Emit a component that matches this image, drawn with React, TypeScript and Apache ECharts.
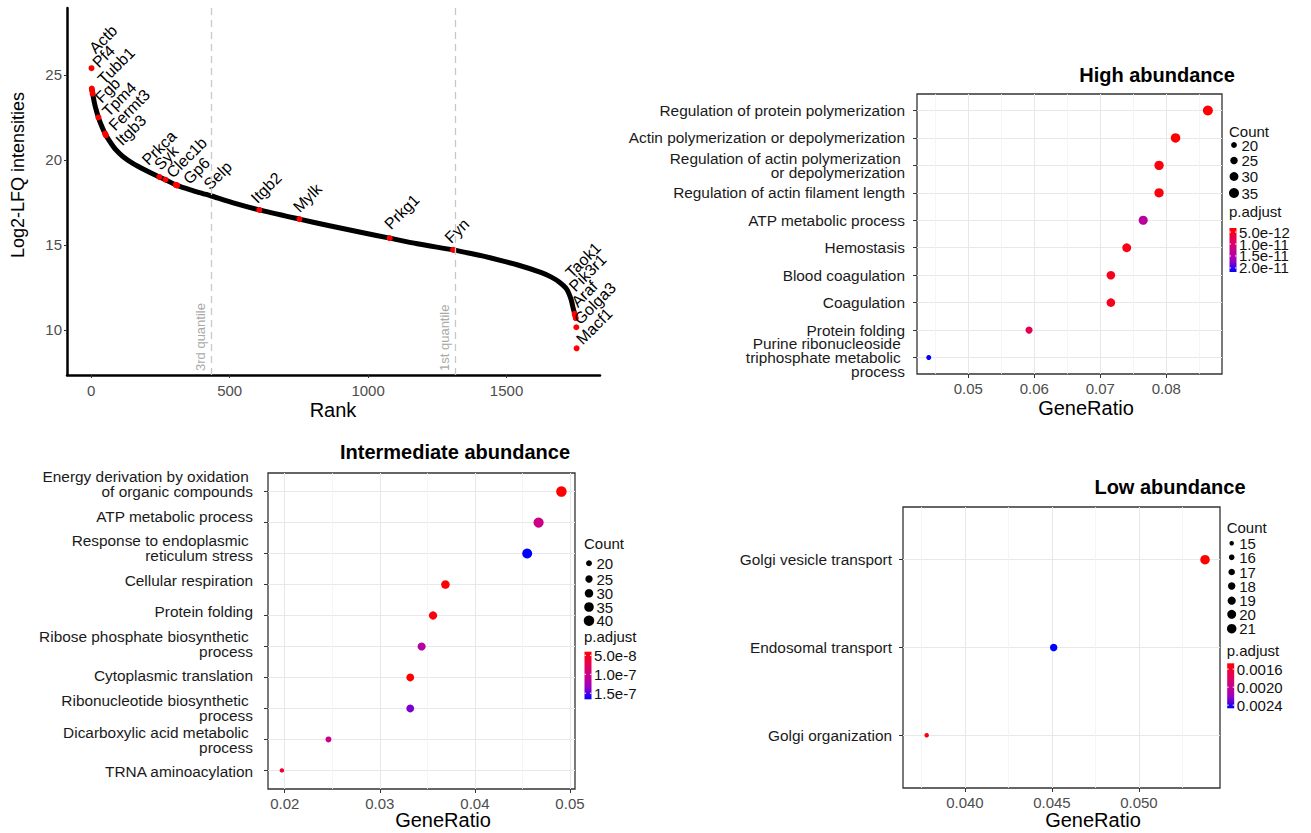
import React, { useEffect, useRef } from 'react';
import * as echarts from 'echarts';

const FONT = "'Liberation Sans', Arial, sans-serif";

// ---------- Ranked proteome (log2 LFQ intensity by abundance rank) ----------
const curveRank = [3, 11, 17, 26, 35, 53, 77, 89, 113, 150, 198, 246, 268, 307, 367, 416, 434, 513, 607, 752, 852, 973, 1078, 1178, 1307, 1372, 1420, 1541, 1626, 1662, 1690, 1717, 1733, 1741, 1747, 1750];
const curveLfq = [24.1, 23.4, 23.0, 22.5, 22.1, 21.45, 20.85, 20.6, 20.22, 19.8, 19.38, 19.0, 18.84, 18.52, 18.2, 17.97, 17.88, 17.47, 17.06, 16.52, 16.16, 15.75, 15.4, 15.07, 14.71, 14.5, 14.33, 13.82, 13.37, 13.11, 12.82, 12.4, 11.8, 11.25, 10.9, 10.7];

const geneNames = ['Actb', 'Pf4', 'Tubb1', 'Fgb', 'Tpm4', 'Fermt3', 'Itgb3', 'Prkca', 'Syk', 'Clec1b', 'Gp6', 'Selp', 'Itgb2', 'Mylk', 'Prkg1', 'Fyn', 'Taok1', 'Pik3r1', 'Araf', 'Golga3', 'Macf1'];
const geneRank = [1, 2, 3, 5, 26, 50, 53, 246, 268, 305, 308, 310, 607, 752, 1078, 1307, 1746, 1748, 1750, 1752, 1753];
const geneLfq = [25.4, 24.2, 24.1, 23.9, 22.5, 21.55, 21.45, 19.0, 18.84, 18.54, 18.52, 18.5, 17.06, 16.52, 15.4, 14.71, 10.95, 10.85, 10.7, 10.16, 8.92];
// pixel offset of each rotated gene label from its point
const geneLabelOffset = [[6, -12], [9, -18], [14, -3], [11, 12], [12, 2], [12, 0], [18, 13], [-9, -9], [-3, -7], [-1, -4], [15, 2], [35, 7], [0, -4], [2, -4], [3, -6], [0, -4], [-1, -33], [2, -21], [4, -8], [6, 0], [8, -1]];

const quantileRank = [434, 1315];
const quantileLabel = ['3rd quantile', '1st quantile'];
const rankTicks = [0, 500, 1000, 1500];
const lfqTicks = [10, 15, 20, 25];

// ---------- GO enrichment: high abundance ----------
const highTerms = ['Regulation of protein polymerization', 'Actin polymerization or depolymerization', 'Regulation of actin polymerization \nor depolymerization', 'Regulation of actin filament length', 'ATP metabolic process', 'Hemostasis', 'Blood coagulation', 'Coagulation', 'Protein folding', 'Purine ribonucleoside \ntriphosphate metabolic \nprocess'];
const highRatio = [0.0863, 0.0814, 0.0789, 0.0789, 0.0765, 0.074, 0.0716, 0.0716, 0.0592, 0.044];
const highCount = [35, 33, 32, 32, 31, 30, 29, 29, 24, 18];
const highPadj = [3.5e-12, 3.3e-12, 4.0e-12, 4.0e-12, 1.4e-11, 4.5e-12, 5.0e-12, 5.0e-12, 8.3e-12, 2.17e-11];
const highTicks = [0.05, 0.06, 0.07, 0.08];
const highMinor = [0.045, 0.055, 0.065, 0.075, 0.085];
const highCountBreaks = [20, 25, 30, 35];
const highPadjBreaks = [5e-12, 1e-11, 1.5e-11, 2e-11];

// ---------- GO enrichment: intermediate abundance ----------
const interTerms = ['Energy derivation by oxidation \nof organic compounds', 'ATP metabolic process', 'Response to endoplasmic \nreticulum stress', 'Cellular respiration', 'Protein folding', 'Ribose phosphate biosynthetic \nprocess', 'Cytoplasmic translation', 'Ribonucleotide biosynthetic \nprocess', 'Dicarboxylic acid metabolic \nprocess', 'TRNA aminoacylation'];
const interRatio = [0.0491, 0.0467, 0.0455, 0.0369, 0.0356, 0.0344, 0.0332, 0.0332, 0.0246, 0.0197];
const interCount = [40, 38, 37, 30, 29, 28, 27, 27, 20, 16];
const interPadj = [4.1e-8, 1.0e-7, 1.66e-7, 4.3e-8, 4.5e-8, 1.16e-7, 4.05e-8, 1.41e-7, 1.03e-7, 5.9e-8];
const interTicks = [0.02, 0.03, 0.04, 0.05];
const interMinor = [0.025, 0.035, 0.045];
const interCountBreaks = [20, 25, 30, 35, 40];
const interPadjBreaks = [5e-8, 1e-7, 1.5e-7];

// ---------- GO enrichment: low abundance ----------
const lowTerms = ['Golgi vesicle transport', 'Endosomal transport', 'Golgi organization'];
const lowRatio = [0.0538, 0.0451, 0.0378];
const lowCount = [21, 18, 15];
const lowPadj = [0.00147, 0.00247, 0.0015];
const lowTicks = [0.04, 0.045, 0.05];
const lowMinor = [0.0375, 0.0425, 0.0475, 0.0525];
const lowCountBreaks = [15, 16, 17, 18, 19, 20, 21];
const lowPadjBreaks = [0.0016, 0.002, 0.0024];

// red (low p.adjust) -> blue (high p.adjust)
const PALETTE = ['#FF0000', '#E80050', '#C90089', '#9A00C3', '#0000FF'];

function areaSize(count: number, cMin: number, cMax: number, dMin: number, dMax: number) {
  const t = cMax === cMin ? 0 : (count - cMin) / (cMax - cMin);
  return Math.sqrt(dMin * dMin + t * (dMax * dMax - dMin * dMin));
}

function txt(text: string, x: number, y: number, o: any = {}) {
  const align = o.align || 'left';
  return {
    type: 'text', x, y, rotation: o.rotation || 0, silent: true, z: 10,
    style: {
      text, fill: o.color || '#111',
      font: `${o.weight || 'normal'} ${o.size || 15}px ${FONT}`,
      textAlign: align, align, textVerticalAlign: 'middle', verticalAlign: 'middle',
    },
  };
}

const dotPanels = [
  {
    terms: highTerms, ratio: highRatio, count: highCount, padj: highPadj,
    xMin: 0.04222, xMax: 0.08844, ticks: highTicks, minor: highMinor, digits: 2,
    grid: { left: 917, top: 94, width: 305, height: 280 }, dRange: [5, 10],
    labelMargin: 12, labelLineHeight: 14, labelRange: null as null | number[],
    title: 'High abundance', titlePos: [1157, 75], xNamePos: [1086, 408],
    legend: { x: 1229, countTitleY: 131.7, countYs: [145, 160.5, 176.5, 193], padjTitleY: 211.7, barTop: 228, barBottom: 272 },
    countBreaks: highCountBreaks, padjBreaks: highPadjBreaks, fmt: (v: number) => v.toExponential(1),
  },
  {
    terms: interTerms, ratio: interRatio, count: interCount, padj: interPadj,
    xMin: 0.01824, xMax: 0.05053, ticks: interTicks, minor: interMinor, digits: 2,
    grid: { left: 268, top: 473, width: 307, height: 316 }, dRange: [4.5, 10.5],
    // term labels on this panel sit on a slightly looser pitch than the rows
    labelMargin: 15, labelLineHeight: 15, labelRange: [-0.3507, 9.543],
    title: 'Intermediate abundance', titlePos: [455, 452], xNamePos: [443, 820],
    legend: { x: 584, countTitleY: 543.3, countYs: [563.3, 579, 593.3, 607, 620.7], padjTitleY: 636.7, barTop: 651.7, barBottom: 699.3 },
    countBreaks: interCountBreaks, padjBreaks: interPadjBreaks, fmt: (v: number) => v.toExponential(1),
  },
  {
    terms: lowTerms, ratio: lowRatio, count: lowCount, padj: lowPadj,
    xMin: 0.03644, xMax: 0.05466, ticks: lowTicks, minor: lowMinor, digits: 3,
    grid: { left: 903, top: 507, width: 317, height: 281 }, dRange: [4.5, 9.5],
    labelMargin: 11, labelLineHeight: 14, labelRange: null as null | number[],
    title: 'Low abundance', titlePos: [1170, 487], xNamePos: [1093, 820],
    legend: { x: 1226.7, countTitleY: 527.3, countYs: [543.3, 557.3, 572, 586, 600.7, 614.3, 628.7], padjTitleY: 650, barTop: 663.3, barBottom: 708.3 },
    countBreaks: lowCountBreaks, padjBreaks: lowPadjBreaks, fmt: (v: number) => v.toFixed(4),
  },
];

function buildOption() {
  const grids: any[] = [{ left: 67, top: 8, width: 533, height: 367, show: false }];
  const xAxes: any[] = [{
    gridIndex: 0, type: 'value', position: 'bottom', min: -87.5, max: 1837.5,
    axisLine: { show: true, onZero: false, lineStyle: { color: '#000', width: 2.5 } },
    axisTick: { show: true, length: 3, customValues: rankTicks, lineStyle: { color: '#333' } },
    axisLabel: { customValues: rankTicks, formatter: (v: number) => String(v), color: '#4d4d4d', fontSize: 15, margin: 8, fontFamily: FONT },
    splitLine: { show: false },
  }];
  const yAxes: any[] = [{
    gridIndex: 0, type: 'value', position: 'left', min: 7.35, max: 28.94,
    axisLine: { show: true, onZero: false, lineStyle: { color: '#000', width: 2.5 } },
    axisTick: { show: true, length: 3, customValues: lfqTicks, lineStyle: { color: '#333' } },
    axisLabel: { customValues: lfqTicks, formatter: (v: number) => String(v), color: '#4d4d4d', fontSize: 15, margin: 5, fontFamily: FONT },
    splitLine: { show: false },
  }];

  const series: any[] = [
    {
      type: 'line', xAxisIndex: 0, yAxisIndex: 0, symbol: 'none', smooth: 0.25,
      data: curveRank.map((r, i) => [r, curveLfq[i]]),
      lineStyle: { color: '#000', width: 5, cap: 'round', join: 'round' }, z: 2,
      markLine: {
        silent: true, symbol: ['none', 'none'],
        lineStyle: { color: '#c8c8c8', type: [7, 5], width: 1.3 },
        label: { show: true, position: 'insideStartTop', color: '#a9a9a9', fontSize: 13, fontFamily: FONT, distance: 4, formatter: (p: any) => p.name },
        data: quantileRank.map((r, i) => ({ xAxis: r, name: quantileLabel[i] })),
      },
    },
    {
      type: 'scatter', xAxisIndex: 0, yAxisIndex: 0, symbolSize: 6, z: 3,
      itemStyle: { color: '#FF0000', opacity: 1 },
      label: { show: true, formatter: '{b}', rotate: 45, align: 'left', verticalAlign: 'bottom', fontSize: 16, color: '#000', fontFamily: FONT },
      data: geneNames.map((n, i) => ({
        name: n, value: [geneRank[i], geneLfq[i]],
        label: { position: [geneLabelOffset[i][0] + 3, geneLabelOffset[i][1] + 3] },
      })),
    },
  ];

  const graphics: any[] = [
    txt('Log2-LFQ intensities', 18, 175, { rotation: Math.PI / 2, align: 'center', size: 18, color: '#000' }),
    txt('Rank', 333, 410, { align: 'center', size: 20, color: '#000' }),
  ];
  const visualMaps: any[] = [];

  dotPanels.forEach((p, k) => {
    const gi = k + 1;
    const idx = p.terms.map((_, i) => i);
    const cMin = Math.min(...p.count);
    const cMax = Math.max(...p.count);
    const pMin = Math.min(...p.padj);
    const pMax = Math.max(...p.padj);
    const size = (c: number) => areaSize(c, cMin, cMax, p.dRange[0], p.dRange[1]);
    const yMin = -0.6;
    const yMax = p.terms.length - 0.4;
    const lr = p.labelRange || [yMin, yMax];

    grids.push({ ...p.grid, show: true, borderColor: '#333', borderWidth: 1.3, backgroundColor: 'transparent' });
    const majorXIndex = xAxes.length;
    xAxes.push({
      gridIndex: gi, type: 'value', position: 'bottom', offset: 0, min: p.xMin, max: p.xMax,
      axisLine: { show: false, onZero: false },
      axisTick: { show: true, length: 4, customValues: p.ticks, lineStyle: { color: '#333' } },
      axisLabel: { customValues: p.ticks, formatter: (v: number) => v.toFixed(p.digits), color: '#4d4d4d', fontSize: 15, margin: 7, fontFamily: FONT, showMinLabel: true, showMaxLabel: true },
      splitLine: { show: true, lineStyle: { color: '#e8e8e8', width: 1 } },
    });
    // minor vertical grid lines
    xAxes.push({
      gridIndex: gi, type: 'value', position: 'bottom', offset: 0, min: p.xMin, max: p.xMax,
      axisLine: { show: false, onZero: false },
      axisTick: { show: false, customValues: p.minor },
      axisLabel: { show: false },
      splitLine: { show: true, lineStyle: { color: '#f2f2f2', width: 0.8 } },
    });
    const rowAxisIndex = yAxes.length;
    // rows: ticks and horizontal grid lines
    yAxes.push({
      gridIndex: gi, type: 'value', position: 'left', offset: 0, inverse: true, min: yMin, max: yMax,
      axisLine: { show: false, onZero: false },
      axisTick: { show: true, length: 4, customValues: idx, lineStyle: { color: '#333' } },
      axisLabel: { show: false },
      splitLine: { show: true, lineStyle: { color: '#e8e8e8', width: 1 } },
    });
    // term names, alternate rows on two axes so tall wrapped names never get culled
    [0, 1].forEach((parity) => {
      const vals = idx.filter((i) => i % 2 === parity);
      yAxes.push({
        gridIndex: gi, type: 'value', position: 'left', offset: 0, inverse: true, min: lr[0], max: lr[1],
        axisLine: { show: false, onZero: false },
        axisTick: { show: false, customValues: vals },
        splitLine: { show: false },
        axisLabel: {
          customValues: vals, formatter: (v: number) => p.terms[Math.round(v)] ?? '',
          color: '#1a1a1a', fontSize: 15.4, lineHeight: p.labelLineHeight, margin: p.labelMargin, align: 'right', fontFamily: FONT,
          showMinLabel: true, showMaxLabel: true, hideOverlap: false,
        },
      });
    });
    series.push({
      type: 'scatter', xAxisIndex: majorXIndex, yAxisIndex: rowAxisIndex, z: 4,
      itemStyle: { opacity: 1 },
      data: p.ratio.map((r, i) => [r, i, p.count[i], p.padj[i]]),
      symbolSize: (v: number[]) => size(v[2]),
    });
    visualMaps.push({
      type: 'continuous', show: false, seriesIndex: series.length - 1, dimension: 3,
      min: pMin, max: pMax, inRange: { color: PALETTE },
    });

    // titles
    graphics.push(txt(p.title, p.titlePos[0], p.titlePos[1], { align: 'center', size: 20, weight: 'bold', color: '#000' }));
    graphics.push(txt('GeneRatio', p.xNamePos[0], p.xNamePos[1], { align: 'center', size: 20, color: '#000' }));

    // size legend
    const L = p.legend;
    graphics.push(txt('Count', L.x, L.countTitleY));
    p.countBreaks.forEach((c, i) => {
      const d = size(c);
      graphics.push({ type: 'circle', silent: true, z: 10, shape: { cx: L.x + 5, cy: L.countYs[i], r: d / 2 }, style: { fill: '#000' } });
      graphics.push(txt(String(c), L.x + 12.5, L.countYs[i]));
    });

    // colour bar legend
    graphics.push(txt('p.adjust', L.x, L.padjTitleY));
    const barH = L.barBottom - L.barTop;
    graphics.push({
      type: 'rect', silent: true, z: 10,
      shape: { x: L.x + 0.5, y: L.barTop, width: 7, height: barH },
      style: { fill: new echarts.graphic.LinearGradient(0, 0, 0, 1, PALETTE.map((c, i) => ({ offset: i / (PALETTE.length - 1), color: c }))) },
    });
    p.padjBreaks.forEach((v) => {
      const y = L.barTop + ((v - pMin) / (pMax - pMin)) * barH;
      graphics.push({ type: 'line', silent: true, z: 11, shape: { x1: L.x + 0.5, y1: y, x2: L.x + 2, y2: y }, style: { stroke: '#fff', lineWidth: 1 } });
      graphics.push({ type: 'line', silent: true, z: 11, shape: { x1: L.x + 6, y1: y, x2: L.x + 7.5, y2: y }, style: { stroke: '#fff', lineWidth: 1 } });
      graphics.push(txt(p.fmt(v), L.x + 10, y));
    });
  });

  return {
    animation: false,
    backgroundColor: '#fff',
    textStyle: { fontFamily: FONT },
    grid: grids,
    xAxis: xAxes,
    yAxis: yAxes,
    visualMap: visualMaps,
    series,
    graphic: { elements: graphics },
  };
}

export default function App() {
  const ref = useRef<HTMLDivElement>(null);
  useEffect(() => {
    if (!ref.current) return;
    const chart = echarts.init(ref.current, undefined, { renderer: 'svg' });
    chart.setOption(buildOption() as any);
    return () => chart.dispose();
  }, []);
  return <div ref={ref} style={{ position: 'absolute', left: 0, top: 0, width: 1311, height: 833 }} />;
}
